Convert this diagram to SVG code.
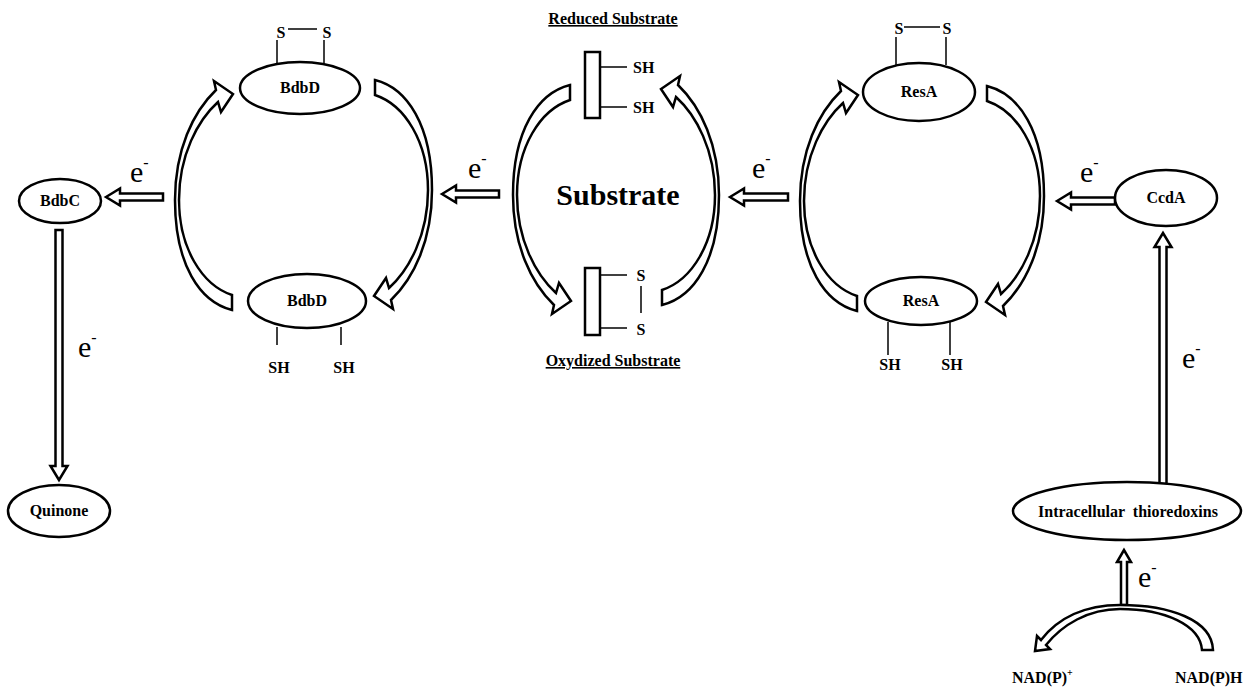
<svg xmlns="http://www.w3.org/2000/svg" xmlns:xlink="http://www.w3.org/1999/xlink" width="1249" height="688" viewBox="0 0 1249 688">
<style>
  .bg{fill:#fff}
  .ell{fill:#fff;stroke:#000;stroke-width:2.5}
  .blk{fill:#fff;stroke:#000;stroke-width:2.5;stroke-linejoin:miter}
  .ln{stroke:#000;stroke-width:1.5;fill:none}
  .lbl{font-family:"Liberation Serif","Times New Roman",serif;font-weight:bold;font-size:16px;fill:#000;text-anchor:middle}
  .sm{font-family:"Liberation Serif","Times New Roman",serif;font-weight:bold;font-size:16px;fill:#000}
  .el{font-family:"Liberation Serif","Times New Roman",serif;font-size:30px;fill:#000}
  .big{font-family:"Liberation Serif","Times New Roman",serif;font-weight:bold;font-size:30px;fill:#000;text-anchor:middle}
  .ul{text-decoration:underline}
</style>
<defs>
  <path id="cyc" class="blk" d="M 232 310 C 200 302, 175 265, 175 200 C 175 150, 193 112, 216 90 L 214 81 L 233 94 L 221 112 L 218 102 C 198 120, 179 155, 179 200 C 179 248, 202 285, 232 295 Z"/>
</defs>
<rect class="bg" x="0" y="0" width="1249" height="688"/>

<g id="connectors">
  <!-- cycle arrows -->
  <use xlink:href="#cyc"/>
  <use xlink:href="#cyc" transform="matrix(-1 0 0 -1 607 390)"/>
  <use xlink:href="#cyc" transform="matrix(1 0 0 -1 338 395)"/>
  <use xlink:href="#cyc" transform="matrix(-1 0 0 1 894 -5)"/>
  <use xlink:href="#cyc" transform="translate(625 1)"/>
  <use xlink:href="#cyc" transform="matrix(-1 0 0 -1 1219 396)"/>
  <!-- straight block arrows -->
  <path class="blk" d="M 106 197 L 120 188.5 L 120 193.5 L 163 193.5 L 163 200.5 L 120 200.5 L 120 205.5 Z"/>
  <path class="blk" d="M 442 194 L 456 185.5 L 456 190.5 L 499 190.5 L 499 197.5 L 456 197.5 L 456 202.5 Z"/>
  <path class="blk" d="M 730 197 L 744 188.5 L 744 193.5 L 788 193.5 L 788 200.5 L 744 200.5 L 744 205.5 Z"/>
  <path class="blk" d="M 1057 201 L 1071 192.5 L 1071 197.5 L 1115 197.5 L 1115 204.5 L 1071 204.5 L 1071 209.5 Z"/>
  <path class="blk" d="M 59 480 L 50.5 466 L 55.5 466 L 55.5 230 L 62.5 230 L 62.5 466 L 67.5 466 Z"/>
  <path class="blk" d="M 1163 233 L 1154.5 247 L 1159.5 247 L 1159.5 484 L 1166.5 484 L 1166.5 247 L 1171.5 247 Z"/>
  <path class="blk" d="M 1124 550 L 1117 562 L 1121 562 L 1121 605 L 1127 605 L 1127 562 L 1131 562 Z"/>
  <!-- NAD(P)H arc -->
  <path class="blk" d="M 1213 650 C 1212 620, 1170 605, 1120 605 C 1085 605, 1058 618, 1041 640 L 1037 636 L 1035 651 L 1050 649 L 1046 645 C 1062 625, 1088 609, 1120 609 C 1165 609, 1200 625, 1202 650 Z"/>
  <!-- e- labels -->
  <text class="el" x="130" y="182">e<tspan font-size="16" dy="-14">-</tspan></text>
  <text class="el" x="468" y="178">e<tspan font-size="16" dy="-14">-</tspan></text>
  <text class="el" x="752" y="178">e<tspan font-size="16" dy="-14">-</tspan></text>
  <text class="el" x="1080" y="182">e<tspan font-size="16" dy="-14">-</tspan></text>
  <text class="el" x="78" y="357">e<tspan font-size="16" dy="-14">-</tspan></text>
  <text class="el" x="1182" y="368">e<tspan font-size="16" dy="-14">-</tspan></text>
  <text class="el" x="1138" y="587">e<tspan font-size="16" dy="-14">-</tspan></text>
</g>

<g id="bdbc">
  <ellipse class="ell" cx="60" cy="201" rx="41" ry="22"/>
  <text class="lbl" x="60" y="206">BdbC</text>
</g>
<g id="quinone">
  <ellipse class="ell" cx="59" cy="511" rx="51" ry="26"/>
  <text class="lbl" x="59" y="516">Quinone</text>
</g>

<g id="bdbd-ox">
  <line class="ln" x1="277" y1="40" x2="277" y2="63"/>
  <line class="ln" x1="324" y1="40" x2="324" y2="63"/>
  <line class="ln" x1="288" y1="29" x2="317" y2="29"/>
  <text class="lbl" x="281" y="38">S</text>
  <text class="lbl" x="327" y="38">S</text>
  <ellipse class="ell" cx="300" cy="88" rx="60" ry="26"/>
  <text class="lbl" x="300" y="93">BdbD</text>
</g>
<g id="bdbd-red">
  <line class="ln" x1="277" y1="327" x2="277" y2="345"/>
  <line class="ln" x1="341" y1="327" x2="341" y2="345"/>
  <ellipse class="ell" cx="307" cy="301" rx="59" ry="27"/>
  <text class="lbl" x="307" y="306">BdbD</text>
  <text class="lbl" x="279" y="373">SH</text>
  <text class="lbl" x="344" y="373">SH</text>
</g>

<g id="substrate">
  <text class="lbl ul" x="613" y="24">Reduced Substrate</text>
  <rect class="blk" x="585" y="52" width="15" height="66"/>
  <line class="ln" x1="600" y1="67" x2="627" y2="67"/>
  <line class="ln" x1="600" y1="107" x2="627" y2="107"/>
  <text class="sm" x="633" y="73">SH</text>
  <text class="sm" x="633" y="113">SH</text>
  <text class="big" x="618" y="205">Substrate</text>
  <rect class="blk" x="585" y="268" width="15" height="67"/>
  <line class="ln" x1="600" y1="275" x2="627" y2="275"/>
  <line class="ln" x1="600" y1="328" x2="627" y2="328"/>
  <line class="ln" x1="641" y1="286" x2="641" y2="313"/>
  <text class="lbl" x="641" y="281">S</text>
  <text class="lbl" x="641" y="335">S</text>
  <text class="lbl ul" x="613" y="366">Oxydized Substrate</text>
</g>

<g id="resa-ox">
  <line class="ln" x1="896" y1="37" x2="896" y2="65"/>
  <line class="ln" x1="946" y1="37" x2="946" y2="65"/>
  <line class="ln" x1="904" y1="27" x2="940" y2="27"/>
  <text class="lbl" x="899" y="34">S</text>
  <text class="lbl" x="947" y="34">S</text>
  <ellipse class="ell" cx="919" cy="92" rx="56" ry="29"/>
  <text class="lbl" x="919" y="97">ResA</text>
</g>
<g id="resa-red">
  <line class="ln" x1="888" y1="322" x2="888" y2="355"/>
  <line class="ln" x1="950" y1="322" x2="950" y2="355"/>
  <ellipse class="ell" cx="921" cy="301" rx="56" ry="24"/>
  <text class="lbl" x="921" y="306">ResA</text>
  <text class="lbl" x="890" y="370">SH</text>
  <text class="lbl" x="952" y="370">SH</text>
</g>

<g id="ccda">
  <ellipse class="ell" cx="1166" cy="198" rx="51" ry="28"/>
  <text class="lbl" x="1166" y="203">CcdA</text>
</g>
<g id="thioredoxins">
  <ellipse class="ell" cx="1127" cy="511" rx="114" ry="29"/>
  <text class="lbl" x="1128" y="517" xml:space="preserve">Intracellular  thioredoxins</text>
</g>
<g id="nadp">
  <text class="sm" x="1012" y="683">NAD(P)<tspan font-size="10" dy="-7">+</tspan></text>
</g>
<g id="nadph">
  <text class="sm" x="1175" y="683">NAD(P)H</text>
</g>
</svg>
